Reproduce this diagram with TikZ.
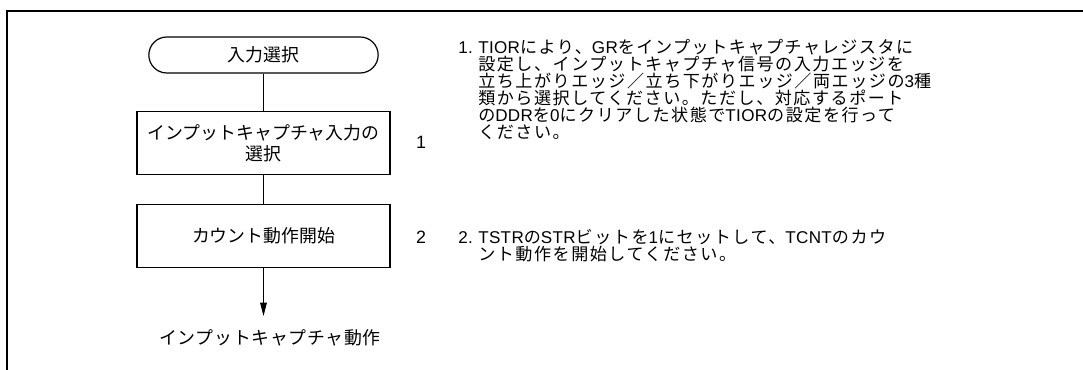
\documentclass[tikz,border=0pt]{standalone}
\usepackage{fontspec}
\setmainfont{Noto Sans CJK JP}
\newfontfamily\latf{Liberation Sans}
\newfontfamily\descf[LetterSpace=9]{Noto Sans CJK JP}
\newfontfamily\wideff[LetterSpace=4]{Noto Sans CJK JP}
\newfontfamily\desclatf[LetterSpace=2]{Liberation Sans}
\newcommand{\lt}[1]{{\latf #1}}
\newcommand{\dl}[1]{{\desclatf #1}}
\newcommand{\ind}{\hspace*{15pt}}
\usetikzlibrary{shapes.misc,arrows.meta}
\begin{document}
\begin{tikzpicture}[x=0.75pt,y=-0.75pt,
  every node/.style={inner sep=0pt, font=\fontsize{13.4}{17}\selectfont},
  flowbox/.style={draw, line width=0.9pt, minimum width=189.75pt, minimum height=47pt, align=center},
  term/.style={draw, line width=0.9pt, rounded rectangle, minimum width=172pt, minimum height=27pt},
  conn/.style={line width=0.75pt},
  desc/.style={anchor=north west, align=left, font=\descf\fontsize{12.8}{12.75}\selectfont},
  frame/.style={line width=1.9pt}
]
\useasboundingbox (0,0) rectangle (1083,370);
\draw[frame] (7,370) -- (7,11) -- (1083,11);

\node[term] (t) at (263.5,55) {入力選択};
\node[flowbox] (b1) at (263.5,143) {インプットキャプチャ入力の\\[-1pt]選択};
\node[flowbox] (b2) at (263.5,236) {カウント動作開始};
\coordinate (e) at (263.5,316);
\node[font=\wideff\fontsize{13.4}{17}\selectfont] (out) at (270,338) {インプットキャプチャ動作};

\draw[conn] (t.south) -- (b1.north);
\draw[conn] (b1.south) -- (b2.north);
\draw[conn, -{Triangle[length=10pt, width=5pt]}] (b2.south) -- (e);

\node (n1) at (421,142) {\lt{1}};
\node (n2) at (421,237) {\lt{2}};

\node[desc] (d1) at (458,39) {\makebox[15pt][l]{\dl{1.}}\dl{TIOR}により、\dl{GR}をインプットキャプチャレジスタに\\\ind 設定し、インプットキャプチャ信号の入力エッジを\\\ind 立ち上がりエッジ／立ち下がりエッジ／両エッジの\dl{3}種\\\ind 類から選択してください。ただし、対応するポート\\\ind の\dl{DDR}を\dl{0}にクリアした状態で\dl{TIOR}の設定を行って\\\ind ください。};
\node[desc] (d2) at (458,229) {\makebox[15pt][l]{\dl{2.}}\dl{TSTR}の\dl{STR}ビットを\dl{1}にセットして、\dl{TCNT}のカウ\\\ind ント動作を開始してください。};
\end{tikzpicture}
\end{document}
